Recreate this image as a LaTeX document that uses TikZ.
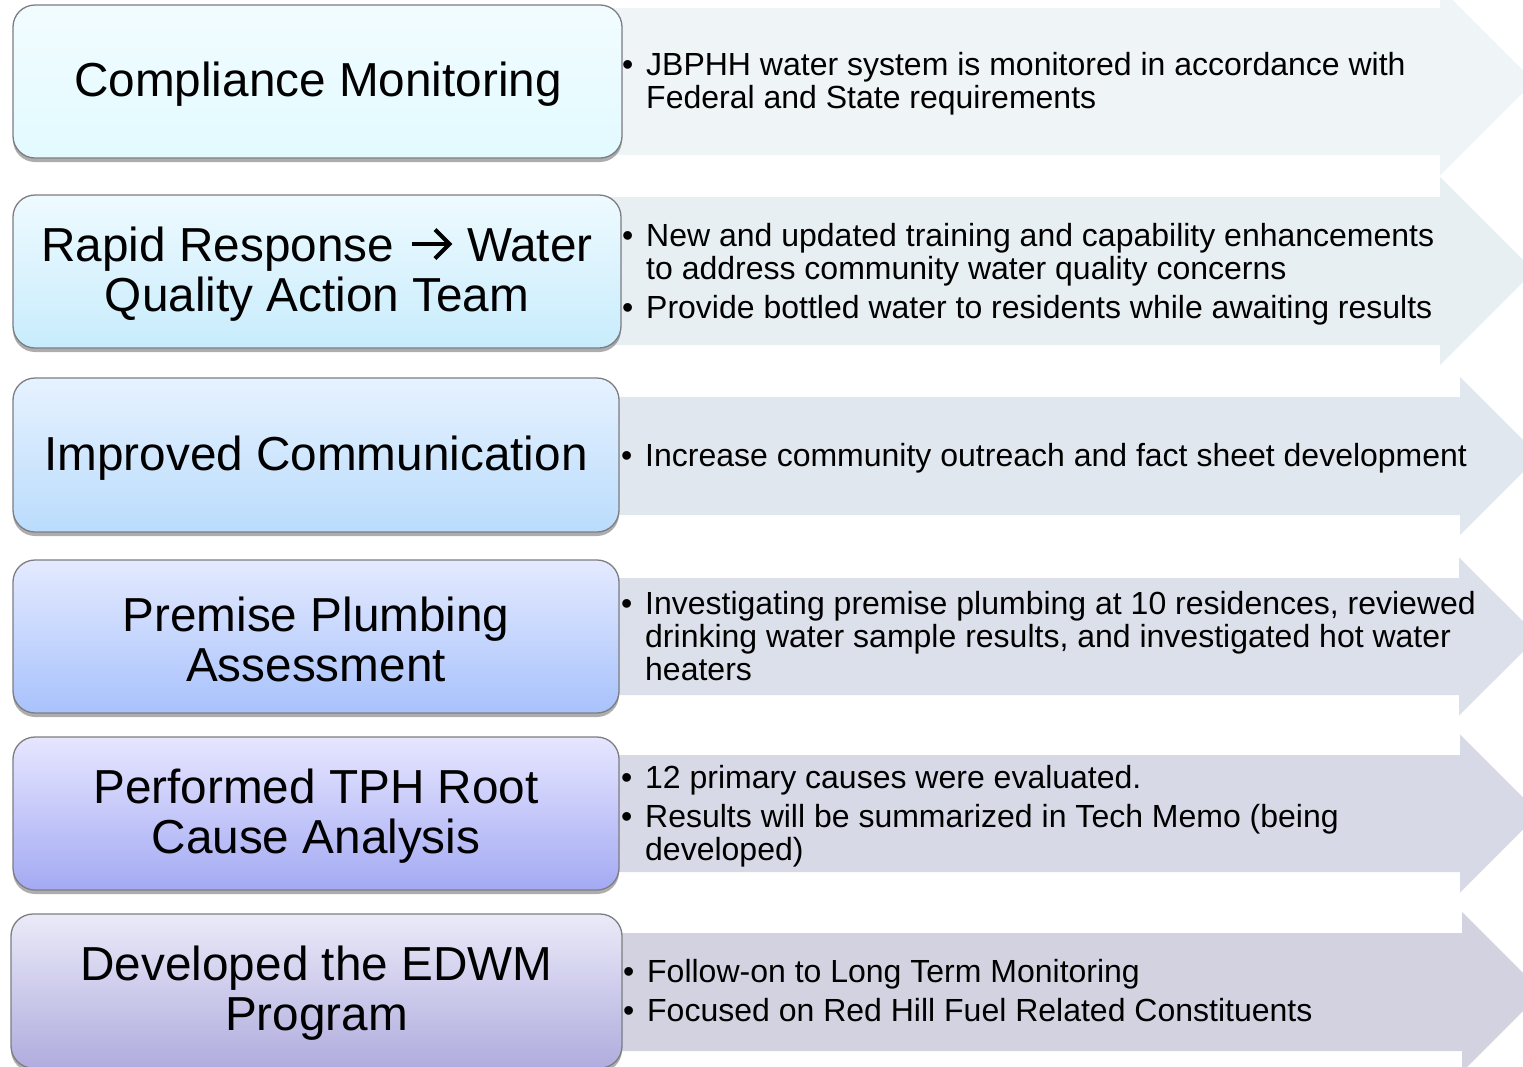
\documentclass[tikz,border=0pt]{standalone}
\usepackage{fontspec}
\setmainfont{Liberation Sans}
\usetikzlibrary{shadows}
\definecolor{boxgray}{RGB}{125,125,130}
\definecolor{ar1}{RGB}{239,244,247}
\definecolor{ar2}{RGB}{232,239,243}
\definecolor{ar3}{RGB}{225,231,238}
\definecolor{ar4}{RGB}{220,224,234}
\definecolor{ar5}{RGB}{215,217,230}
\definecolor{ar6}{RGB}{210,210,224}
\definecolor{bt1}{RGB}{242,252,255}
\definecolor{bb1}{RGB}{226,250,255}
\definecolor{bt2}{RGB}{238,250,255}
\definecolor{bb2}{RGB}{200,236,252}
\definecolor{bt3}{RGB}{230,242,255}
\definecolor{bb3}{RGB}{186,220,252}
\definecolor{bt4}{RGB}{228,234,255}
\definecolor{bb4}{RGB}{168,194,252}
\definecolor{bt5}{RGB}{230,230,255}
\definecolor{bb5}{RGB}{164,170,243}
\definecolor{bt6}{RGB}{234,234,248}
\definecolor{bb6}{RGB}{176,172,222}
\newcommand\bul{\makebox[24pt][l]{\textbullet}}
\begin{document}
\begin{tikzpicture}[x=1pt,y=-1pt,
  titlebox/.style={draw=boxgray, line width=1.3pt, rounded corners=22pt,
    inner sep=0pt,
    drop shadow={shadow xshift=0pt, shadow yshift=-4pt, opacity=0.4, fill=black!80}},
  titletext/.style={inner sep=0pt, align=center, font=\fontsize{47.7}{50}\selectfont},
  bodytext/.style={anchor=west, inner sep=0pt, align=left,
    font=\fontsize{32}{33}\selectfont},
  glyphline/.style={line width=4pt, line cap=butt, line join=miter}
]
\useasboundingbox (0,0) rectangle (1523,1066);
\clip (0,0) rectangle (1523,1066);

% arrows
\fill[ar1] (600,8) -- (1440,8) -- (1440,-12.5) -- (1534,81.5) -- (1440,175.5) -- (1440,155) -- (600,155) -- cycle;
\fill[ar2] (600,197) -- (1440,197) -- (1440,177) -- (1534,271) -- (1440,365) -- (1440,345) -- (600,345) -- cycle;
\fill[ar3] (600,397) -- (1460,397) -- (1460,377) -- (1539,456) -- (1460,535) -- (1460,515) -- (600,515) -- cycle;
\fill[ar4] (600,578) -- (1459,578) -- (1459,557.5) -- (1538.5,636.5) -- (1459,715.5) -- (1459,695) -- (600,695) -- cycle;
\fill[ar5] (600,755) -- (1460,755) -- (1460,734.5) -- (1539,813.5) -- (1460,892.5) -- (1460,872) -- (600,872) -- cycle;
\fill[ar6] (600,933) -- (1462,933) -- (1462,912) -- (1542,992) -- (1462,1072) -- (1462,1051) -- (600,1051) -- cycle;

% left boxes
\node[titlebox, top color=bt1, bottom color=bb1, minimum width=609pt, minimum height=153pt] (b1) at (317.5,81.5) {};
\node[titlebox, top color=bt2, bottom color=bb2, minimum width=608pt, minimum height=153pt] (b2) at (317,271.5) {};
\node[titlebox, top color=bt3, bottom color=bb3, minimum width=606pt, minimum height=154pt] (b3) at (316,455) {};
\node[titlebox, top color=bt4, bottom color=bb4, minimum width=606pt, minimum height=153pt] (b4) at (316,636.5) {};
\node[titlebox, top color=bt5, bottom color=bb5, minimum width=606pt, minimum height=153pt] (b5) at (316,813.5) {};
\node[titlebox, top color=bt6, bottom color=bb6, minimum width=611pt, minimum height=154pt] (b6) at (316.5,991) {};

% titles
\node[titletext] (l1) at (318,84) {Compliance Monitoring};
\node[titletext] (l2) at (317,274) {Rapid Response\hspace{73pt}Water\\Quality Action Team};
\node[titletext] (l3) at (316,458) {Improved Communication};
\node[titletext] (l4) at (316,639) {Premise Plumbing\\Assessment};
\node[titletext] (l5) at (316,816) {Performed TPH Root\\Cause Analysis};
\node[titletext] (l6) at (316.5,993.5) {Developed the EDWM\\Program};

% the arrow glyph inside "Rapid Response -> Water"
\draw[glyphline] (412,244) -- (448,244);
\draw[glyphline] (435,229.5) -- (449.5,244) -- (435,258.5);

% bullet texts
\node[bodytext] (t1) at (622,85) {\begin{tabular}{@{}l@{}l@{}}\bul&JBPHH water system is monitored in accordance with\\ &Federal and State requirements\end{tabular}};
\node[bodytext] (t2) at (622,275.5) {\begin{tabular}{@{}l@{}l@{}}\bul&New and updated training and capability enhancements\\ &to address community water quality concerns\\[6pt]\bul&Provide bottled water to residents while awaiting results\end{tabular}};
\node[bodytext] (t3) at (621,459.5) {\begin{tabular}{@{}l@{}l@{}}\bul&Increase community outreach and fact sheet development\end{tabular}};
\node[bodytext] (t4) at (621,640.5) {\begin{tabular}{@{}l@{}l@{}}\bul&Investigating premise plumbing at 10 residences, reviewed\\ &drinking water sample results, and investigated hot water\\ &heaters\end{tabular}};
\node[bodytext] (t5) at (621,817.5) {\begin{tabular}{@{}l@{}l@{}}\bul&12 primary causes were evaluated.\\[6pt]\bul&Results will be summarized in Tech Memo (being\\ &developed)\end{tabular}};
\node[bodytext] (t6) at (623,995) {\begin{tabular}{@{}l@{}l@{}}\bul&Follow-on to Long Term Monitoring\\[6pt]\bul&Focused on Red Hill Fuel Related Constituents\end{tabular}};
\end{tikzpicture}
\end{document}
